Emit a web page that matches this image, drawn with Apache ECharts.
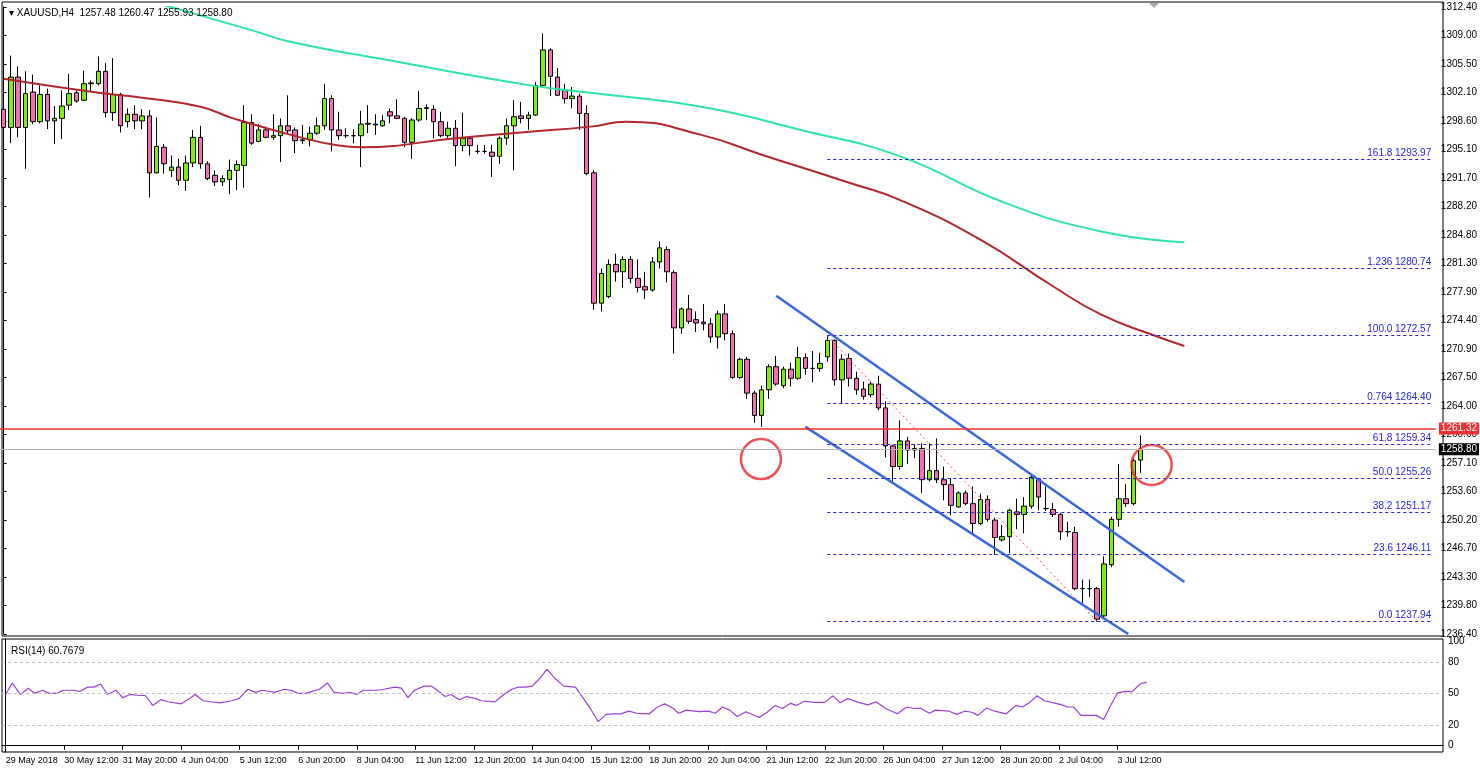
<!DOCTYPE html>
<html>
<head>
<meta charset="utf-8">
<script src="https://cdn.jsdelivr.net/npm/echarts@6/dist/echarts.min.js"></script>
<style>
  html, body { margin: 0; padding: 0; background: #fff; overflow: hidden; }
  #chart { width: 1480px; height: 772px; }
</style>
</head>
<body>
<div id="chart"></div>
<script>
// XAUUSD H4 candles: [open, high, low, close]
const candles = [
  [1300.0,1300.5,1297.3,1297.8],[1297.8,1306.5,1295.9,1303.9],[1303.9,1305.2,1296.6,1297.8],[1297.8,1304.6,1292.8,1301.9],
  [1302.1,1304.2,1298.2,1298.5],[1298.5,1303.0,1298.3,1301.8],[1301.8,1302.5,1297.6,1298.6],[1298.6,1300.4,1295.8,1298.9],
  [1298.9,1302.3,1296.4,1300.4],[1300.5,1304.3,1299.9,1301.9],[1302.0,1302.3,1300.8,1301.0],[1301.1,1304.7,1301.0,1303.1],
  [1303.1,1303.5,1302.1,1303.2],[1303.1,1306.4,1302.9,1304.6],[1304.6,1305.6,1299.0,1299.6],[1299.6,1306.2,1298.6,1301.8],
  [1301.8,1302.0,1297.2,1298.0],[1298.5,1300.1,1297.8,1299.4],[1299.4,1300.5,1297.6,1298.6],[1298.6,1300.0,1297.6,1299.2],
  [1299.2,1299.9,1289.3,1292.3],[1292.3,1299.0,1292.2,1295.5],[1295.4,1295.8,1292.2,1293.4],[1292.6,1294.4,1291.8,1293.0],
  [1293.0,1294.0,1290.8,1291.4],[1291.4,1294.4,1290.1,1293.5],[1293.5,1297.5,1293.0,1296.6],[1296.6,1298.0,1292.8,1293.4],
  [1293.4,1293.7,1291.4,1291.6],[1292.0,1292.6,1290.7,1291.2],[1291.2,1292.0,1290.7,1291.6],[1291.5,1293.9,1289.7,1292.6],
  [1292.6,1293.8,1290.2,1293.3],[1293.2,1300.5,1290.5,1298.4],[1298.4,1299.4,1295.7,1295.9],[1296.1,1298.2,1296.0,1297.5],
  [1297.5,1297.9,1296.5,1296.6],[1296.6,1299.4,1296.3,1296.8],[1296.8,1298.9,1293.6,1298.0],[1298.0,1301.7,1297.0,1297.4],
  [1297.5,1297.8,1294.7,1296.2],[1296.2,1298.1,1295.8,1296.3],[1296.3,1297.9,1295.5,1297.1],[1297.1,1299.0,1296.9,1298.0],
  [1298.0,1303.1,1297.5,1301.3],[1301.3,1301.7,1294.9,1297.5],[1297.5,1299.7,1296.3,1296.8],[1296.8,1297.7,1296.5,1296.8],
  [1296.8,1297.6,1295.9,1296.8],[1296.8,1299.8,1293.0,1298.2],[1298.2,1300.5,1297.1,1298.3],[1298.1,1299.4,1296.9,1298.2],
  [1298.0,1299.3,1297.9,1298.6],[1299.7,1300.1,1298.3,1299.2],[1299.2,1301.2,1298.8,1298.9],[1298.9,1299.1,1295.4,1296.0],
  [1296.0,1298.9,1294.0,1298.7],[1298.7,1302.2,1298.5,1300.1],[1300.1,1300.6,1298.7,1300.2],[1300.0,1300.5,1296.5,1298.5],
  [1298.5,1299.7,1296.6,1296.8],[1296.8,1298.5,1296.5,1297.7],[1297.7,1298.7,1293.1,1295.6],[1295.6,1299.6,1294.9,1296.5],
  [1296.5,1296.7,1294.4,1295.6],[1294.9,1295.7,1294.6,1294.9],[1294.9,1295.7,1294.6,1294.9],[1294.8,1295.7,1291.8,1294.3],
  [1294.3,1296.7,1293.4,1296.5],[1296.5,1298.9,1295.7,1298.0],[1298.0,1301.1,1292.6,1299.1],[1299.2,1300.9,1298.3,1298.9],
  [1298.9,1299.7,1297.5,1299.3],[1299.3,1303.3,1299.2,1302.9],[1302.9,1309.2,1302.7,1307.2],[1307.2,1307.4,1301.6,1304.0],
  [1303.9,1305.0,1301.6,1301.7],[1302.3,1303.1,1300.7,1301.3],[1301.3,1302.7,1300.1,1301.6],[1301.6,1301.9,1297.5,1299.5],
  [1299.5,1300.5,1292.0,1292.2],[1292.3,1292.6,1275.7,1276.5],[1276.5,1280.7,1275.5,1280.1],[1277.3,1281.8,1277.1,1281.2],
  [1281.2,1282.5,1279.1,1280.3],[1280.3,1282.2,1278.4,1281.8],[1281.8,1282.2,1278.9,1279.5],[1279.5,1281.8,1277.8,1278.4],
  [1278.5,1280.3,1277.0,1278.1],[1278.1,1282.1,1277.9,1281.5],[1281.5,1284.0,1280.7,1283.2],[1283.0,1283.4,1279.0,1280.3],
  [1280.2,1280.5,1270.4,1273.5],[1273.5,1276.0,1272.8,1275.8],[1275.8,1277.5,1274.0,1274.3],[1274.5,1275.5,1273.0,1274.1],
  [1274.2,1276.4,1273.2,1274.0],[1274.0,1274.7,1271.7,1272.4],[1272.4,1275.6,1271.0,1275.2],[1275.2,1276.4,1272.0,1272.8],
  [1272.8,1273.2,1267.3,1267.5],[1267.5,1269.9,1267.3,1269.7],[1269.7,1270.0,1264.9,1265.6],[1265.6,1265.9,1262.0,1262.9],
  [1262.9,1266.5,1261.5,1266.0],[1266.0,1269.1,1264.9,1268.8],[1268.8,1270.1,1266.5,1266.7],[1266.5,1268.8,1266.2,1268.5],
  [1268.5,1269.3,1266.4,1267.4],[1267.4,1271.2,1267.2,1269.9],[1269.9,1270.4,1267.8,1268.6],[1268.6,1270.7,1266.9,1268.6],
  [1268.6,1270.5,1268.2,1269.2],[1270.0,1272.6,1269.4,1272.0],[1272.0,1272.1,1266.5,1267.2],[1267.2,1270.3,1264.4,1269.7],
  [1269.8,1270.4,1266.4,1267.4],[1267.4,1268.2,1265.4,1266.0],[1266.1,1267.0,1264.8,1265.2],[1265.4,1267.0,1265.1,1266.7],
  [1266.7,1267.7,1263.5,1263.8],[1263.8,1264.6,1257.8,1259.2],[1259.2,1259.3,1254.9,1256.7],[1256.7,1262.3,1256.3,1259.8],
  [1259.8,1260.3,1257.0,1258.7],[1258.7,1259.4,1257.7,1258.9],[1258.9,1259.5,1253.5,1255.1],[1255.1,1259.5,1254.9,1256.2],
  [1256.2,1260.1,1254.7,1255.1],[1255.1,1256.7,1252.6,1254.5],[1254.5,1255.3,1250.8,1252.0],[1251.8,1253.7,1251.7,1253.5],
  [1253.5,1253.8,1252.0,1252.2],[1252.2,1254.3,1248.6,1249.8],[1249.8,1253.4,1249.6,1252.7],[1252.7,1253.2,1250.0,1250.3],
  [1250.2,1250.5,1246.0,1248.1],[1247.8,1249.6,1247.6,1248.2],[1248.2,1251.6,1246.2,1251.4],[1251.2,1252.8,1249.1,1250.9],
  [1250.9,1253.0,1248.6,1251.9],[1251.9,1255.7,1251.6,1255.4],[1255.2,1255.3,1251.4,1253.0],[1251.6,1254.3,1251.3,1251.6],
  [1251.5,1252.3,1250.6,1250.9],[1250.9,1251.1,1247.8,1248.8],[1248.8,1250.0,1248.2,1248.8],[1248.7,1249.4,1241.7,1241.9],
  [1241.9,1243.0,1239.9,1241.9],[1241.9,1243.0,1240.9,1241.9],[1241.9,1242.1,1237.9,1238.2],[1238.6,1245.8,1238.2,1244.9],
  [1244.8,1250.6,1244.5,1250.3],[1250.3,1257.0,1249.4,1252.8],[1252.8,1254.6,1251.8,1252.2],[1252.2,1257.7,1252.0,1257.4],
  [1257.48,1260.47,1255.93,1258.80]
];

const slotCount = 197;
const timeLabels = ['29 May 2018','30 May 12:00','31 May 20:00','4 Jun 04:00','5 Jun 12:00','6 Jun 20:00',
  '8 Jun 04:00','11 Jun 12:00','12 Jun 20:00','14 Jun 04:00','15 Jun 12:00','18 Jun 20:00','20 Jun 04:00',
  '21 Jun 12:00','22 Jun 20:00','26 Jun 04:00','27 Jun 12:00','28 Jun 20:00','2 Jul 04:00','3 Jul 12:00'];
const priceTicks = ['1236.40','1239.80','1243.30','1246.70','1250.20','1253.60','1257.10','1260.60','1264.00',
  '1267.50','1270.90','1274.40','1277.90','1281.30','1284.80','1288.20','1291.70','1295.10','1298.60',
  '1302.10','1305.50','1309.00','1312.40'];

// moving averages sampled along the bars: [bar, price]
const maRed = [[0,1303.7],[13,1302.0],[19,1301.4],[27,1300.3],[31.5,1298.9],[40.7,1296.6],[46,1295.6],[49,1295.4],
  [62,1296.5],[71,1297.2],[80.5,1297.9],[85.4,1298.5],[95.7,1296.9],[104,1294.5],[116,1291.1],[123,1289.0],
  [134,1284.2],[143.7,1278.7],[150.6,1275.1],[157.5,1272.7],[162,1271.3]];
const maGreen = [[21,1312.9],[34,1309.6],[39.3,1308.2],[54.4,1305.7],[72.3,1302.9],[80.5,1302.0],[95.7,1300.3],
  [109.4,1297.5],[123,1294.3],[137,1288.8],[150.6,1285.2],[162,1283.9]];

// RSI(14): [bar, value]
const rsi = [[0,49],[0.9,60],[2,49],[3.1,55],[4,50],[5,53],[6,50],[7,50],[7.9,53],[9.2,53],[10.2,52],[11.2,56],
  [12.1,56],[13,59],[13.9,49],[15.1,53],[16,46],[17,49],[18.3,48],[19.1,48],[20.1,38.5],[21.2,44],[22.2,42],
  [24,40],[25.1,45],[25.9,49],[27,43],[28,42],[29.3,41],[30.9,43],[31.9,45],[33.1,54],[34.2,51],[35.1,53],
  [36.8,51],[38.1,54],[39,53],[40,50],[41,50],[41.9,52],[42.9,54],[44,60],[44.9,51],[46.2,50],[47.1,51],
  [48,49],[48.9,53],[50.7,53],[51.7,54],[53.2,56],[54.1,55],[55,46],[55.9,53],[57.2,57],[58.2,57],[59,53],
  [60.1,47],[60.9,49],[62,44],[63,47],[64.3,45],[65,43],[66.9,42],[68.1,49],[69.2,54],[70.1,56],[71.1,56],
  [72,57],[73.1,65],[74,73],[75,65],[76.3,57],[77.9,56],[78.6,49],[79.9,36],[81,23],[82.1,30],[83.1,30.5],
  [84.1,30.5],[85.2,33],[86.3,31],[88,30.5],[89.1,37],[90.1,40],[91.2,36],[92,31],[93.1,34],[94.8,32.5],
  [96.1,33],[97,31],[98,37],[99,34],[100,28],[101.2,32.5],[103,27],[104.1,32],[105.2,38.5],[106.2,35.6],
  [107.3,40.5],[108.1,38.5],[109.2,42.5],[110.5,41.4],[112,41.4],[113.1,47.7],[114.1,41],[115.1,45],
  [116.6,41.4],[117.9,39],[119,42],[120.3,35.6],[121.9,30.5],[123.2,37],[124.2,35.6],[125,36],[126.3,31],
  [127.1,34],[129,33],[130,30],[131.1,33],[132.1,32],[132.9,29],[134.1,36],[135.2,33],[136.8,30.5],
  [138.1,38.5],[139,37],[140,41.4],[141,47.7],[142,43],[143.3,41],[144.4,39],[145.2,37],[146,37],[147,29],
  [149.1,29],[150.1,25],[151.1,39],[152,50.5],[153,52],[154,51.7],[155.1,59],[156,60.7679]];

// Fibonacci levels drawn from the swing high to the low
const fibLevels = [['161.8',1293.97],['1.236',1280.74],['100.0',1272.57],['0.764',1264.40],['61.8',1259.34],
  ['50.0',1255.26],['38.2',1251.17],['23.6',1246.11],['0.0',1237.94]];
const fibStart = 113;
const fibSwing = [[113,1272.57],[150,1237.94]];
const channelUpper = [[106,1277.4],[162,1242.7]];
const channelLower = [[110,1261.5],[154.3,1236.4]];
const circles = [[103.9,1257.6],[157.5,1256.9]];
const resistance = 1261.32;
const lastPrice = 1258.80;

const pMin = 1236.40, pMax = 1312.40, pStep = (pMax - pMin) / 22;
const font = 'Liberation Sans';
const cats = Array.from({length: slotCount}, (_, i) => i);
const chart = echarts.init(document.getElementById('chart'));

const fibLines = fibLevels.map(([k, v]) => [
  {coord: [fibStart, v], label: {formatter: k + ' ' + v.toFixed(2)}},
  {coord: [slotCount - 1, v]}
]);

const showTick = (i) => i % 8 === 0 && i / 8 < timeLabels.length;
const hiddenX = (grid) => ({type: 'value', gridIndex: grid, min: -0.5, max: slotCount - 0.5, show: false});
const catX = (grid, labels) => ({
  type: 'category', gridIndex: grid, data: cats, boundaryGap: true,
  axisLine: {show: labels, lineStyle: {color: '#000'}},
  axisTick: {show: labels, alignWithLabel: true, interval: showTick, length: 4, lineStyle: {color: '#000'}},
  axisLabel: {show: labels, interval: showTick, showMinLabel: true,
    formatter: (v, i) => timeLabels[i / 8] || '', align: 'left', color: '#000', fontSize: 9, fontFamily: font, margin: 4}
});

chart.setOption({
  animation: false,
  title: [
    {text: '▾ XAUUSD,H4  1257.48 1260.47 1255.93 1258.80', left: 4, top: 3,
      textStyle: {fontSize: 10, fontWeight: 'normal', color: '#000', fontFamily: font}},
    {text: 'RSI(14) 60.7679', left: 6, top: 641,
      textStyle: {fontSize: 10, fontWeight: 'normal', color: '#000', fontFamily: font}}
  ],
  graphic: [
    {type: 'rect', shape: {x: 2, y: 2, width: 1441, height: 634}, style: {fill: 'none', stroke: '#000', lineWidth: 1}, silent: true},
    {type: 'polygon', shape: {points: [[1149, 3], [1159, 3], [1154, 8]]}, style: {fill: '#aaa'}, silent: true}
  ],
  grid: [
    {left: 0, right: 37, top: 7, height: 627},
    {left: 2, right: 37, top: 639, height: 113, show: true, borderColor: '#000', borderWidth: 1}
  ],
  xAxis: [catX(0, false), hiddenX(0), catX(1, true), hiddenX(1)],
  yAxis: [
    {type: 'value', gridIndex: 0, position: 'right', min: pMin, max: pMax, interval: pStep,
      axisLine: {show: true, lineStyle: {color: '#000'}}, axisTick: {show: true, length: 3, lineStyle: {color: '#000'}},
      splitLine: {show: false},
      axisLabel: {color: '#000', fontSize: 10, fontFamily: font, margin: 5,
        formatter: (v) => priceTicks[Math.round((v - pMin) / pStep)] || ''}},
    {type: 'value', gridIndex: 1, position: 'right', min: -6, max: 102, interval: 2,
      axisLine: {show: true, lineStyle: {color: '#000'}}, axisTick: {show: false}, splitLine: {show: false},
      axisLabel: {color: '#000', fontSize: 10, fontFamily: font, margin: 5, showMinLabel: false, showMaxLabel: false,
        formatter: (v) => [0, 20, 50, 80, 100].includes(v) ? String(v) : ''}}
  ],
  series: [
    {type: 'candlestick', xAxisIndex: 0, yAxisIndex: 0, barWidth: 5,
      data: candles.map(([o, h, l, c]) => [o, c, l, h]),
      itemStyle: {color: '#7cf000', color0: '#f56cb4', borderColor: '#000', borderColor0: '#000', borderWidth: 1},
      markLine: {
        silent: true, symbol: 'none', animation: false,
        data: [
          {yAxis: resistance, lineStyle: {color: '#f03030', width: 1.5, type: 'solid'},
            label: {position: 'end', formatter: resistance.toFixed(2), backgroundColor: '#f03030', color: '#fff',
              fontSize: 10, fontFamily: font, padding: [1, 2], distance: 3}},
          {yAxis: lastPrice, lineStyle: {color: '#b4b4b4', width: 1, type: 'solid'},
            label: {position: 'end', formatter: lastPrice.toFixed(2), backgroundColor: '#000', color: '#fff',
              fontSize: 10, fontFamily: font, padding: [1, 2], distance: 3}},
          ...fibLines
        ],
        lineStyle: {color: '#2424e0', type: [3, 3], width: 1},
        label: {position: 'insideEndTop', color: '#2424e0', fontSize: 10, fontFamily: font, distance: 1}
      }},
    {type: 'line', xAxisIndex: 1, yAxisIndex: 0, data: maRed, smooth: true, showSymbol: false,
      lineStyle: {color: '#b3262b', width: 2}},
    {type: 'line', xAxisIndex: 1, yAxisIndex: 0, data: maGreen, smooth: true, showSymbol: false,
      lineStyle: {color: '#2ee6a0', width: 2}},
    {type: 'line', xAxisIndex: 1, yAxisIndex: 0, data: fibSwing, showSymbol: false,
      lineStyle: {color: '#f05050', width: 1, type: [2, 3]}},
    {type: 'line', xAxisIndex: 1, yAxisIndex: 0, data: channelUpper, showSymbol: false,
      lineStyle: {color: '#3867e0', width: 2.5}},
    {type: 'line', xAxisIndex: 1, yAxisIndex: 0, data: channelLower, showSymbol: false,
      lineStyle: {color: '#3867e0', width: 2.5}},
    {type: 'scatter', xAxisIndex: 1, yAxisIndex: 0, data: circles, symbol: 'circle', symbolSize: [40, 40],
      itemStyle: {color: 'rgba(0,0,0,0)', borderColor: '#e8262c', borderWidth: 2.5}},
    {type: 'line', xAxisIndex: 3, yAxisIndex: 1, data: rsi, showSymbol: false,
      lineStyle: {color: '#9b40d8', width: 1.2},
      markLine: {silent: true, symbol: 'none', label: {show: false},
        lineStyle: {color: '#c0c0c0', type: [3, 3], width: 1},
        data: [{yAxis: 20}, {yAxis: 50}, {yAxis: 80}]}}
  ]
});
</script>
</body>
</html>
